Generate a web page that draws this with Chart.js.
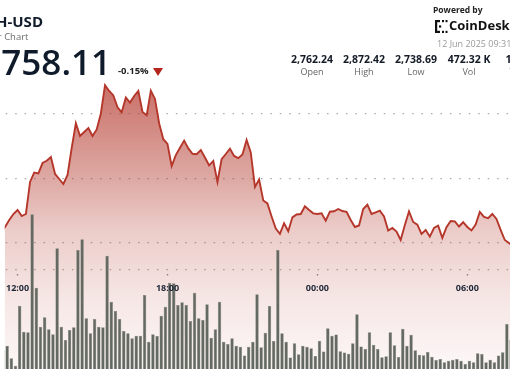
<!DOCTYPE html>
<html>
<head>
<meta charset="utf-8">
<script src="https://cdn.jsdelivr.net/npm/chart.js@4.4.1/dist/chart.umd.min.js"></script>
<style>
html,body{margin:0;padding:0;width:510px;height:369px;overflow:hidden;background:#fff;font-family:"Open Sans",sans-serif;}
#wrap{position:relative;width:510px;height:369px;overflow:hidden;}
#c{position:absolute;left:0;top:0;}
.t{position:absolute;white-space:nowrap;line-height:1;}
.col{position:absolute;width:70px;text-align:center;white-space:nowrap;line-height:1;}
.v{font-size:10.5px;font-weight:700;color:#141b26;top:53.5px;}
.l{font-size:9px;color:#666;top:67px;}
</style>
</head>
<body>
<div id="wrap">
<canvas id="c" width="510" height="369"></canvas>

<div class="t" style="right:467px;top:14px;font-size:15px;font-weight:700;color:#101b2b;">ETH-USD</div>
<div class="t" style="right:481.5px;top:32.3px;font-size:9.5px;color:#6a6a6a;">Ether Chart</div>
<div class="t" style="right:399px;top:44px;font-size:35px;font-weight:600;color:#0f1a2a;">2,758.11</div>
<div class="t" style="left:118px;top:66.3px;font-size:9.5px;font-weight:700;color:#222;">-0.15%</div>
<div style="position:absolute;left:153px;top:68px;width:0;height:0;border-left:5px solid transparent;border-right:5px solid transparent;border-top:8px solid #b3251c;"></div>

<div class="t" style="left:433px;top:5.5px;font-size:8.5px;font-weight:700;color:#222;">Powered by</div>
<svg style="position:absolute;left:435px;top:20px;" width="13" height="13" viewBox="0 0 13 13">
  <rect x="0" y="0" width="2.2" height="13" fill="#111"/>
  <rect x="0" y="0" width="5" height="2.2" fill="#111"/>
  <rect x="0" y="10.8" width="5" height="2.2" fill="#111"/>
  <rect x="7" y="0" width="2" height="2.2" fill="#111"/>
  <rect x="10.5" y="0" width="2" height="2.2" fill="#111"/>
  <rect x="7" y="10.8" width="2" height="2.2" fill="#111"/>
  <rect x="10.5" y="10.8" width="2" height="2.2" fill="#111"/>
  <rect x="4" y="5.4" width="2.2" height="2.2" fill="#111"/>
</svg>
<div class="t" style="left:449px;top:19px;font-size:13px;font-weight:700;color:#111;">CoinDesk</div>
<div class="t" style="left:437px;top:39px;font-size:9px;color:#9a9a9a;">12 Jun 2025 09:31</div>

<div class="col v" style="left:277px;">2,762.24</div>
<div class="col v" style="left:329px;">2,872.42</div>
<div class="col v" style="left:381px;">2,738.69</div>
<div class="col v" style="left:434px;">472.32 K</div>
<div class="col v" style="left:486px;">1.32 B</div>
<div class="col l" style="left:277px;">Open</div>
<div class="col l" style="left:329px;">High</div>
<div class="col l" style="left:381px;">Low</div>
<div class="col l" style="left:434px;">Vol</div>
<div class="col l" style="left:486px;">Value</div>
</div>

<script>
// ---- data (10-minute samples, minutes relative to 12:00) ----
const firstPriceMinute = -40;      // first price sample (11:20)
const firstVolumeMinute = -35;     // first volume bar centre (11:25)
const stepMinutes = 10;

const priceValues = [
  2758.3, 2762.2, 2767.6, 2772.3, 2775.4, 2770.7, 2772.3, 2797.2, 2804.5, 2803.9,
  2811.9, 2813.7, 2816.6, 2803.4, 2799.5, 2795.6, 2802.6, 2823.6, 2842.8, 2832.9,
  2836.0, 2839.1, 2832.9, 2838.0, 2850.4, 2872.4, 2867.9, 2864.4, 2855.2, 2851.3,
  2862.8, 2858.9, 2864.0, 2867.9, 2851.6, 2849.0, 2868.1, 2861.7, 2842.6, 2830.4,
  2826.7, 2809.6, 2818.1, 2823.8, 2829.3, 2823.3, 2819.1, 2818.7, 2822.0, 2816.2,
  2810.0, 2813.5, 2797.2, 2815.0, 2818.9, 2823.0, 2817.4, 2815.7, 2818.5, 2829.8,
  2820.1, 2793.3, 2799.1, 2782.8, 2780.5, 2770.4, 2761.0, 2756.8, 2765.1, 2758.9,
  2769.7, 2771.9, 2772.3, 2778.3, 2775.4, 2772.8, 2772.3, 2772.8, 2767.1, 2774.1,
  2774.4, 2776.2, 2774.6, 2773.9, 2767.6, 2762.2, 2763.4, 2776.2, 2779.5, 2772.3,
  2773.6, 2774.9, 2770.4, 2759.5, 2761.4, 2758.7, 2752.1, 2763.8, 2774.4, 2766.1,
  2764.0, 2756.8, 2759.9, 2754.7, 2761.4, 2763.2, 2753.7, 2762.0, 2766.9, 2766.6,
  2762.6, 2765.9, 2762.2, 2759.5, 2764.1, 2773.9, 2770.0, 2769.0, 2772.3, 2768.4,
  2759.9, 2752.1, 2749.8, 2747.4
];

// volume per 10-minute bar, thousands of ETH
const volumeValues = [
  1.24, 1.52, 0.70, 0.21, 4.12, 2.43, 2.39, 10.06, 5.29, 2.75,
  3.36, 2.58, 2.26, 7.85, 2.75, 1.89, 2.54, 2.71, 7.74, 8.44,
  3.30, 2.32, 3.25, 2.75, 2.71, 7.37, 4.38, 3.77, 3.25, 2.47,
  2.32, 2.00, 2.17, 2.17, 4.81, 1.78, 2.26, 2.15, 3.47, 4.05,
  5.61, 5.57, 4.16, 4.34, 4.16, 3.12, 4.96, 3.30, 3.19, 4.21,
  2.04, 2.58, 4.38, 1.78, 1.63, 2.00, 1.52, 1.45, 0.87, 1.45,
  1.78, 4.86, 1.41, 2.36, 4.10, 1.82, 7.74, 2.32, 1.78, 0.75,
  1.67, 0.96, 1.52, 1.45, 1.35, 0.85, 1.84, 1.14, 2.65, 2.17,
  2.24, 1.16, 1.07, 1.00, 1.67, 3.56, 1.46, 1.30, 2.39, 1.57,
  1.30, 0.76, 0.83, 2.39, 1.54, 0.78, 2.62, 1.51, 2.22, 1.22,
  0.92, 0.89, 1.11, 0.80, 0.59, 0.65, 0.44, 0.54, 0.60, 0.65,
  0.54, 0.33, 0.54, 0.44, 1.02, 0.98, 0.44, 0.60, 0.44, 0.87,
  1.09, 2.93, 1.89
];

const tickMinutes = [0, 360, 720, 1080];
const tickLabels = ['12:00', '18:00', '00:00', '06:00'];
const gridPrices = [2750, 2800, 2850];

// ---- layout of the cropped view ----
const X_MIN = -30.93, X_MAX = 1182.5;
const Y_MIN = 2651.86, Y_MAX = 2938.58;
const AXIS_PRICE = 2728.8;
const VOL_MAX = 24;

const pricePoints = priceValues.map((v, i) => ({x: firstPriceMinute + i * stepMinutes, y: v}));
const volumePoints = volumeValues.map((v, i) => ({x: firstVolumeMinute + i * stepMinutes, y: v}));

function fillGradient(context) {
  const chart = context.chart;
  const {ctx, chartArea} = chart;
  if (!chartArea) return 'rgba(180,58,46,0.3)';
  const g = ctx.createLinearGradient(0, 85, 0, 369);
  g.addColorStop(0, 'rgba(180,58,46,0.72)');
  g.addColorStop(0.335, 'rgba(180,58,46,0.43)');
  g.addColorStop(0.51, 'rgba(180,58,46,0.26)');
  g.addColorStop(0.757, 'rgba(180,58,46,0.12)');
  g.addColorStop(1, 'rgba(180,58,46,0.04)');
  return g;
}

new Chart(document.getElementById('c'), {
  type: 'bar',
  data: {
    datasets: [
      {
        type: 'line',
        data: pricePoints,
        xAxisID: 'x', yAxisID: 'y',
        borderColor: '#b5372b',
        borderWidth: 1.9,
        pointRadius: 0,
        tension: 0,
        fill: 'start',
        backgroundColor: fillGradient,
        order: 2
      },
      {
        type: 'bar',
        data: volumePoints,
        xAxisID: 'x', yAxisID: 'yv',
        backgroundColor: '#646a61',
        borderColor: 'rgba(120,125,118,1)',
        borderWidth: 0.5,
        barPercentage: 0.82,
        categoryPercentage: 1,
        order: 1
      }
    ]
  },
  options: {
    responsive: false,
    animation: false,
    layout: {padding: 0},
    plugins: {legend: {display: false}, tooltip: {enabled: false}},
    scales: {
      x: {
        type: 'linear',
        offset: false,
        min: X_MIN, max: X_MAX,
        position: {y: AXIS_PRICE},
        afterBuildTicks: s => { s.ticks = tickMinutes.map(v => ({value: v})); },
        ticks: {
          z: 1,
          autoSkip: false, maxRotation: 0, padding: 6,
          color: '#1d2636',
          font: {family: 'Open Sans', size: 9, weight: 'bold'},
          callback: v => tickLabels[tickMinutes.indexOf(v)]
        },
        grid: {offset: false, drawOnChartArea: false, drawTicks: true, tickLength: 7,
               tickColor: '#8c8c8c', tickWidth: 1.4, tickBorderDash: [0, 4, 1.6, 20]},
        border: {display: false}
      },
      y: {
        type: 'linear', position: 'right',
        min: Y_MIN, max: Y_MAX,
        afterFit: s => { s.width = 0; },
        afterBuildTicks: s => { s.ticks = gridPrices.concat([AXIS_PRICE]).map(v => ({value: v})); },
        ticks: {display: false},
        grid: {color: '#a9a9a9', lineWidth: 1.2, drawTicks: false},
        border: {display: false, dash: [1.5, 7.95], dashOffset: 8.4}
      },
      yv: {
        type: 'linear', position: 'left', display: false,
        min: 0, max: VOL_MAX
      }
    }
  }
});
</script>
</body>
</html>
